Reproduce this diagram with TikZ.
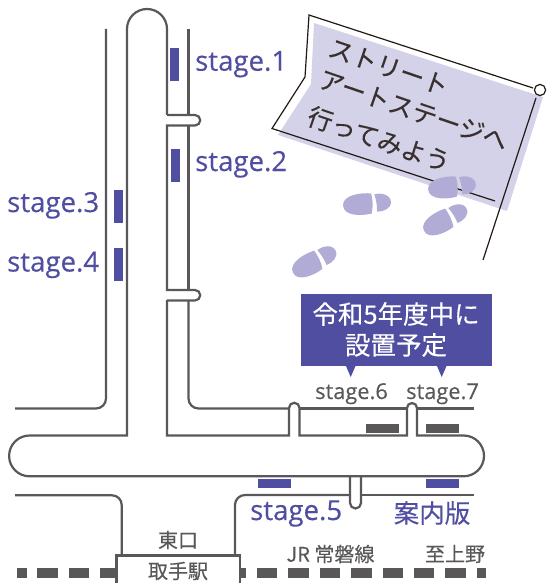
\documentclass[tikz,border=0pt]{standalone}
\usepackage{fontspec}
\setmainfont[FakeBold=0.25]{Noto Sans CJK JP}
\newfontfamily\latinface[FakeBold=0.3]{Open Sans}
\definecolor{indigo}{HTML}{504EA0}
\definecolor{road}{HTML}{595757}
\definecolor{flagfill}{HTML}{D3D2E8}
\definecolor{footfill}{HTML}{B0ACD6}
\definecolor{ink}{HTML}{231815}
\tikzset{
 roadline/.style={draw=road,line width=2.2pt,line join=miter},
 flagline/.style={draw=ink,line width=1.2pt},
 bluemark/.style={fill=indigo,draw=none},
 graymark/.style={fill=road,draw=none},
 bigstage/.style={font=\latinface\fontsize{27.6}{27.6}\selectfont,text=indigo,inner sep=0pt,anchor=base west},
 smallstage/.style={font=\latinface\fontsize{21.8}{21.8}\selectfont,text=road,inner sep=0pt,anchor=base west},
 graylabel/.style={font=\fontsize{20}{20}\selectfont,text=road,inner sep=0pt},
 flagtext/.style={font=\fontsize{25}{25}\selectfont,text=ink!90,inner sep=0pt,rotate=-18.9},
 calltext/.style={font=\fontsize{25.5}{25.5}\selectfont,text=white,inner sep=0pt},
 footshape/.style={fill=footfill,draw=none},
}
\newcommand{\footprint}[3]{%
 \begin{scope}[shift={(#1,#2)},rotate=#3]
  \fill[footshape] (0,-10.5) .. controls (-10,-12.5) and (-29,-11) .. (-29,-0.5) .. controls (-29,10) and (-12,11.5) .. (-1,9.5) .. controls (1,3) and (1,-4) .. (0,-10.5) -- cycle;
  \fill[footshape] (3,-9.5) .. controls (10,-11) and (19,-8) .. (19,-1) .. controls (19,6) and (11,8.5) .. (4.5,8) .. controls (5,2) and (4.5,-4) .. (3,-9.5) -- cycle;
 \end{scope}}
\begin{document}
\begin{tikzpicture}[x=1pt,y=-1pt]
\useasboundingbox (0,0) rectangle (546,583);
% flag
\fill[flagfill] (314,23) -- (543,97) -- (507,211) -- (278,135) -- (311,84) -- cycle;
\draw[flagline,line join=miter] (533,88) -- (309,15) -- (305,77) -- (272,128.5) -- (495,201);
\draw[flagline] (536,98) -- (483,260);
\draw[flagline,fill=white] (540,90) circle[radius=5.6pt];
\node[flagtext] (flagA) at (388.5,67) {ストリート};
\node[flagtext] (flagB) at (413.5,110) {アートステージへ};
\node[flagtext] (flagC) at (379,139) {行ってみよう};
% footprints
\footprint{457}{187}{6}
\footprint{372}{204}{4}
\footprint{450}{218}{27}
\footprint{319}{260}{27}
% rail dashes
\fill[road] (17,567.5) rectangle (27,577.5);
\foreach \d in {37.3,68.7,100,131.4,162.8,194.2,225.6,257,288.4,319.8,351.2,382.6,414,445.4}
  \fill[road] (\d,567.5) rectangle ++(20.4,10);
\fill[road] (476.8,567.5) rectangle (486,577.5);
% main road
\draw[roadline] (167,115) -- (167,29) arc[start angle=0,end angle=180,radius=20pt] -- (127,435.5) -- (29.5,435.5)
  arc[start angle=90,end angle=270,radius=20.4pt] -- (463.6,476.3)
  arc[start angle=-90,end angle=90,radius=20.4pt] -- (417,435.5) -- (417,408)
  arc[start angle=0,end angle=180,radius=5pt] -- (407,435.5) -- (299.5,435.5) -- (299.5,408)
  arc[start angle=0,end angle=180,radius=5.25pt] -- (289,435.5) -- (167,435.5) -- (167,300);
% branch stubs off the vertical road
\draw[roadline] (167,115) -- (195,115) arc[start angle=90,end angle=-90,radius=5.25pt] -- (167,125.5) -- (167,290) -- (195,290) arc[start angle=90,end angle=-90,radius=5.25pt] -- (167,300.5);
% bottom stub
\draw[roadline] (350,476.3) -- (350,503) arc[start angle=180,end angle=360,radius=5.5pt] -- (361,476.3);
% outer kerbs
\draw[roadline] (106,29) -- (106,398.5) arc[start angle=0,end angle=-90,radius=10pt] -- (15,408.5);
\draw[roadline] (188.5,29) -- (188.5,115);
\draw[roadline] (188.5,125.5) -- (188.5,290);
\draw[roadline] (188.5,300.5) -- (188.5,398.5) arc[start angle=180,end angle=270,radius=10pt] -- (289,408.5);
\draw[roadline] (299.5,408.5) -- (407,408.5);
\draw[roadline] (417,408.5) -- (474,408.5);
\draw[roadline] (15,495.3) -- (112,495.3) arc[start angle=90,end angle=0,radius=9.7pt] -- (121.7,556);
\draw[roadline] (235,556) -- (235,505) arc[start angle=180,end angle=90,radius=10pt] -- (350,495);
\draw[roadline] (361,495.3) -- (474,495.3);
% stage marks
\fill[bluemark] (170,48) rectangle (179,81);
\fill[bluemark] (171,149) rectangle (180,182);
\fill[bluemark] (114,190) rectangle (123,223);
\fill[bluemark] (114,248) rectangle (123,281);
\fill[bluemark] (258,479) rectangle (291,488);
\fill[bluemark] (426,479) rectangle (459,488);
\fill[graymark] (366,424) rectangle (399,433);
\fill[graymark] (426,424) rectangle (459,433);
% station
\draw[roadline,fill=white] (116.5,590) -- (116.5,555.5) -- (240,555.5) -- (240,590);
\node[graylabel] (east) at (178,540) {東口};
\node[graylabel] (station) at (178,571) {取手駅};
\node[graylabel] (line) at (330.5,554) {JR 常磐線};
\node[graylabel] (ueno) at (455,554) {至上野};
% callout
\fill[indigo] (301,294) rectangle (492,366);
\fill[indigo] (346,366) -- (355.5,366) -- (350.7,377) -- cycle;
\fill[indigo] (437,366) -- (446.5,366) -- (441.7,377) -- cycle;
\node[calltext] (callA) at (396,314) {令和5年度中に};
\node[calltext] (callB) at (396,345) {設置予定};
% stage labels
\node[bigstage] (s1) at (195,70.7) {stage.1};
\node[bigstage] (s2) at (195,171) {stage.2};
\node[bigstage] (s3) at (7,212) {stage.3};
\node[bigstage] (s4) at (7,271.5) {stage.4};
\node[bigstage] (s5) at (250,520) {stage.5};
\node[smallstage] (s6) at (315,399) {stage.6};
\node[smallstage] (s7) at (406,399) {stage.7};
\node[font=\fontsize{25.5}{25.5}\selectfont,text=indigo,inner sep=0pt] (info) at (432,513) {案内版};
\end{tikzpicture}
\end{document}
